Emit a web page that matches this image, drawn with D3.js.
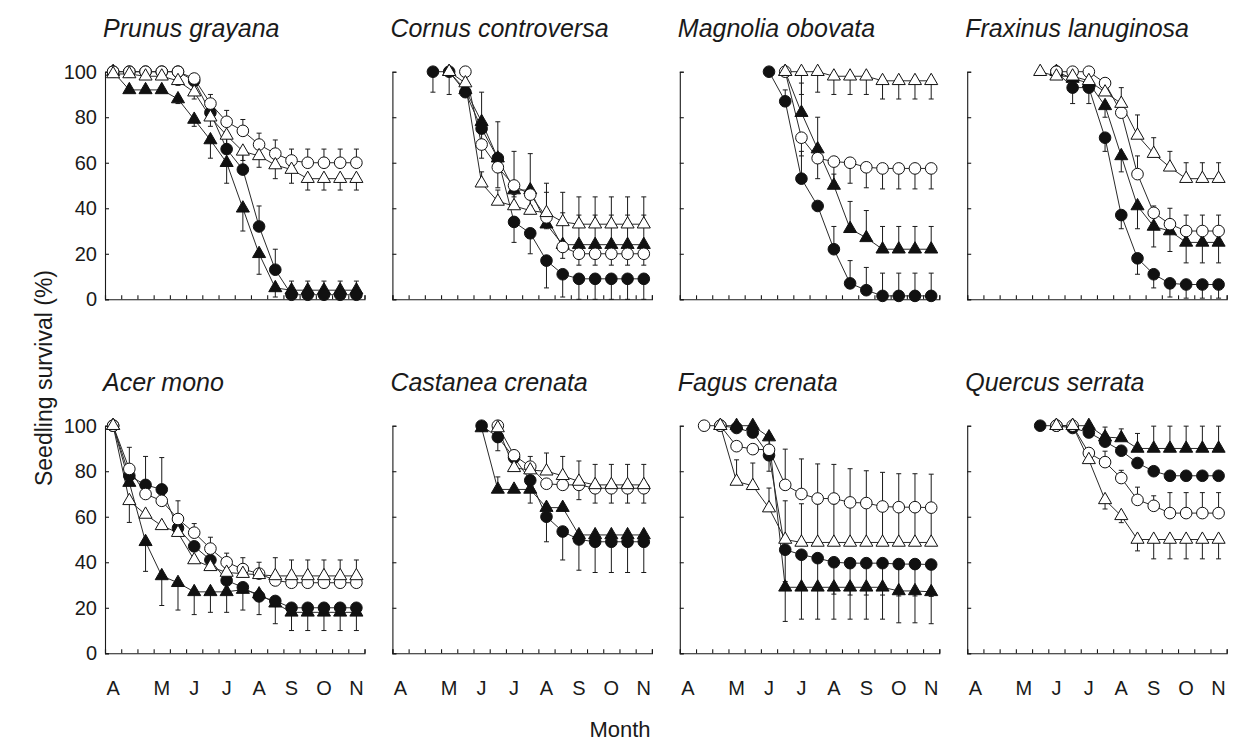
<!DOCTYPE html>
<html>
<head>
<meta charset="utf-8">
<script src="https://cdn.jsdelivr.net/npm/d3@7"></script>
<style>
  html, body { margin: 0; padding: 0; background: #fff; }
  svg { display: block; font-family: "Liberation Sans", Arial, Helvetica, sans-serif; }
</style>
</head>
<body>
<svg id="chart" width="1241" height="744"></svg>
<script>
// ---- data -----------------------------------------------------------------
const _ = null;
const monthLabels = ["A", "M", "J", "J", "A", "S", "O", "N"];
const monthSlots  = [0, 3, 5, 7, 9, 11, 13, 15];   // census slot under each month letter
const yTicks = [0, 20, 40, 60, 80, 100];
const speciesNames = [
  "Prunus grayana", "Cornus controversa", "Magnolia obovata", "Fraxinus lanuginosa",
  "Acer mono", "Castanea crenata", "Fagus crenata", "Quercus serrata"
];
// treatment order inside every survival / SE table below
const treatments = ["filledCircle", "openCircle", "filledTriangle", "openTriangle"];

// survival (%) per census slot, rows follow `treatments`
const prunusSurvival = [
  [100,100,100,100,100,96,82,66,57,32,13,2,2,2,2,2],
  [100,100,100,100,100,97,86,78,74,68,64,61,60,60,60,60],
  [100,92,92,92,88,79,70,60,40,20,5,4,4,4,4,4],
  [99,99,98,98,96,91,80,72,65,63,59,57,53,53,53,53]
];
const prunusSE = [
  [0,0,0,0,0,2,4,6,8,9,9,6,6,6,6,6],
  [0,0,0,0,0,2,4,5,5,5,6,5,6,6,6,6],
  [0,0,0,0,2,3,8,9,10,9,4,3,3,3,3,3],
  [0,0,0,0,2,3,4,4,4,5,6,6,5,5,5,5]
];
const prunusBarSide = [1, 1, -1, -1];

const cornusSurvival = [
  [_,_,100,100,91,75,62,34,29,17,11,9,9,9,9,9],
  [_,_,_,_,100,68,58,50,46,36,23,20,20,20,20,20],
  [_,_,_,100,92,78,62,48,48,33,24,24,24,24,24,24],
  [_,_,_,100,95,51,43,41,39,38,34,33,33,33,33,33]
];
const cornusSE = [
  [0,0,9,10,2,5,6,9,9,12,10,9,9,9,9,9],
  [0,0,0,0,0,6,9,5,5,5,5,5,5,5,5,5],
  [0,0,0,0,3,13,16,17,16,18,14,13,13,13,13,13],
  [0,0,0,0,3,5,5,5,7,9,13,12,12,12,12,12]
];
const cornusBarSide = [-1, -1, 1, 1];

const magnoliaSurvival = [
  [_,_,_,_,_,100,87,53,41,22,7,4,1.5,1.5,1.5,1.5],
  [_,_,_,_,_,_,100,71,62,60.5,60,58,57.5,57.5,57.5,57.5],
  [_,_,_,_,_,_,100,82,66,50,31,27,22,22,22,22],
  [_,_,_,_,_,_,100,100,100,98,98,98,96,96,96,96]
];
const magnoliaSE = [
  [0,0,0,0,0,0,5,12,0,10,10,10,10,10,10,10],
  [0,0,0,0,0,0,0,8,9,9,9,9,9,9,9,9],
  [0,0,0,0,0,0,0,13,14,5,12,12,10,10,10,10],
  [0,0,0,0,0,0,2,10,9,8,8,8,8,8,8,8]
];
const magnoliaBarSide = [1, -1, 1, -1];

const fraxinusSurvival = [
  [_,_,_,_,_,100,93,93,71,37,18,11,7,6.5,6.5,6.5],
  [_,_,_,_,_,100,100,100,95,82,55,38,33,30,30,30],
  [_,_,_,_,_,100,97,95,85,63,41,32,30,25,25,25],
  [_,_,_,_,100,98,98,96,91,86,72,64,58,53,53,53]
];
const fraxinusSE = [
  [0,0,0,0,0,0,7,7,6,6,7,6,6,6,6,6],
  [0,0,0,0,0,0,0,0,0,0,8,3,7,7,7,7],
  [0,0,0,0,0,0,0,3,5,7,10,9,9,9,9,9],
  [0,0,0,0,0,2,0,0,0,7,9,7,7,7,7,7]
];
const fraxinusBarSide = [-1, 1, -1, 1];

const acerSurvival = [
  [100,78,74,72,55,47,41,32,29,25,23,20,20,20,20,20],
  [100,81,70,67,59,53,46,40,37,35,32,31,31,31,31,31],
  [100,75,49,34,31,27,27,27,28,26,22,18,18,18,18,18],
  [100,67,61,56,53,41,38,35.5,35,34.5,34,34,34,34,34,34]
];
const acerSE = [
  [0,0,12.5,14,0,0,0,0,0,0,0,0,0,0,0,0],
  [0,9.5,0,0,8,4,5,4,5,5,10,10,10,10,10,10],
  [0,0,13,13,12,10,9,9,9,9,9,8,8,8,8,8],
  [0,9.5,0,0,0,0,0,0,0,0,0,0,0,0,0,0]
];
const acerBarSide = [1, 1, -1, -1];

const castaneaSurvival = [
  [_,_,_,_,_,100,95,86,76,60,53.5,50,49,49,49,49],
  [_,_,_,_,_,_,100,87,82,74.5,74,74,72.5,72.5,72.5,72.5],
  [_,_,_,_,_,99,72,72,72,64,64,52,52,52,52,52],
  [_,_,_,_,_,_,99,81.5,80.5,80,78,75.5,74,74,74,74]
];
const castaneaSE = [
  [0,0,0,0,0,0,6,3,10,11,12.5,13.5,13.5,13.5,13.5,13.5],
  [0,0,0,0,0,0,0,0,0,0,0,6.5,6.5,6.5,6.5,6.5],
  [0,0,0,0,0,0,5.5,0,0,0,0,0,0,0,0,0],
  [0,0,0,0,0,0,3,0,6,8,8.5,9,9,9,9,9]
];
const castaneaBarSide = [-1, -1, 1, 1];

const fagusSurvival = [
  [_,_,100,99,97,87,45.5,43.3,41.8,40,39.6,39.6,39.6,39.2,39.2,39],
  [_,100,100,91,89.7,89.4,74,70,68,68,66.3,66,64.5,64.2,64.2,64],
  [_,_,100,100,100,95,29,29,29,29,29,29,29,27.4,27.4,27],
  [_,_,100,75.5,73.6,63.8,50,48.7,48.7,48.7,48.7,48.7,48.7,48.7,48.7,48.7]
];
const fagusSE = [
  [0,0,0,0,0,7,14,14,14,14,14,14,14,14,14,14],
  [0,0,0,0,0,0,15.7,15.4,15.2,15,14.8,14.2,15,14.7,14.7,14.7],
  [0,0,0,0,0,4,15,14,14,14,14,14,14,14,14,14],
  [0,0,0,9.5,10,8.8,17,17,17,17,17,17,17,17,17,17]
];
const fagusBarSide = [-1, 1, -1, 1];

const quercusSurvival = [
  [_,_,_,_,100,100,99,97,93,89,83.6,80,78,78,78,78],
  [_,_,_,_,_,100,100,88,84,77,67.4,64.8,61.6,61.6,61.6,61.6],
  [_,_,_,_,_,100,100,100,95,94.6,90,90,90,90,90,90],
  [_,_,_,_,_,100,100,85,67.4,60.4,50,50,50,50,50,50]
];
const quercusSE = [
  [0,0,0,0,0,0,0,0,0,0,0,0,0,0,0,0],
  [0,0,0,0,0,0,0,0,4.8,3.4,5.6,4.4,9,9,9,9],
  [0,0,0,0,0,0,0,0,4.4,4,6.6,9.8,9.8,9.8,9.8,9.8],
  [0,0,0,0,0,0,0,0,4,3,5,8.5,8.5,8.5,8.5,8.5]
];
const quercusBarSide = [1, 1, 1, -1];

const survivalTables = [prunusSurvival, cornusSurvival, magnoliaSurvival, fraxinusSurvival,
                        acerSurvival, castaneaSurvival, fagusSurvival, quercusSurvival];
const seTables = [prunusSE, cornusSE, magnoliaSE, fraxinusSE,
                  acerSE, castaneaSE, fagusSE, quercusSE];
const barSides = [prunusBarSide, cornusBarSide, magnoliaBarSide, fraxinusBarSide,
                  acerBarSide, castaneaBarSide, fagusBarSide, quercusBarSide];

// ---- layout ---------------------------------------------------------------
const nSlots = 16;
const panelW = 259.5, panelH = 227.6;
const colLeft = c => 105 + 287.4 * c;
const rowTop  = r => 71.7 + 354 * r;
const ink = "#1a1a1a";
const fontStack = '"Liberation Sans", Arial, Helvetica, sans-serif';

const svg = d3.select("#chart");

const markerStyle = {
  filledCircle:   { shape: d3.symbolCircle,   size: 106, fill: "#111" },
  openCircle:     { shape: d3.symbolCircle,   size: 106, fill: "#fff" },
  filledTriangle: { shape: d3.symbolTriangle, size: 74,  fill: "#111" },
  openTriangle:   { shape: d3.symbolTriangle, size: 74,  fill: "#fff" }
};
// drawing order of markers (last one on top)
const markerOrder = [2, 0, 1, 3];

speciesNames.forEach((name, p) => {
  const col = p % 4, row = Math.floor(p / 4);
  const g = svg.append("g").attr("transform", `translate(${colLeft(col)},${rowTop(row)})`);

  const x = d3.scaleLinear().domain([0, nSlots]).range([0, panelW]);
  const y = d3.scaleLinear().domain([0, 100]).range([panelH, 0]);

  // axes with inward ticks
  const yAxis = d3.axisLeft(y).tickValues(yTicks).tickSize(-4).tickPadding(9)
    .tickFormat(col === 0 ? d3.format("d") : () => "");
  const gy = g.append("g").call(yAxis);
  const xAxis = d3.axisBottom(x).tickValues(d3.range(nSlots + 1)).tickSize(-4).tickFormat(() => "");
  const gx = g.append("g").attr("transform", `translate(0,${panelH})`).call(xAxis);
  [gx, gy].forEach(a => {
    a.selectAll("path, line").attr("stroke", ink).attr("stroke-width", 1.1);
  });
  gy.selectAll("text").attr("font-size", 20).attr("fill", ink)
    .attr("font-family", fontStack).attr("x", -8);

  if (row === 1) {
    g.append("g").selectAll("text").data(monthLabels).join("text")
      .attr("x", (d, i) => x(monthSlots[i] + 0.5))
      .attr("y", panelH + 42)
      .attr("text-anchor", "middle")
      .attr("font-size", 20)
      .attr("fill", ink)
      .text(d => d);
  }

  // species name
  g.append("text")
    .attr("x", -2).attr("y", -35)
    .attr("font-size", 25).attr("font-style", "italic").attr("fill", ink)
    .text(name);

  const table = survivalTables[p], se = seTables[p], sides = barSides[p];
  const pts = table.map((vals, t) => vals.map((v, i) => ({
    i, v, e: se[t][i], side: sides[t], t
  })).filter(d => d.v !== null));

  // error bars (one-sided)
  const bars = g.append("g").attr("stroke", ink).attr("stroke-width", 1);
  pts.forEach(series => {
    series.filter(d => d.e > 0).forEach(d => {
      const cx = x(d.i + 0.5);
      const yEnd = y(Math.max(0, d.v + d.side * d.e));
      bars.append("line").attr("x1", cx).attr("x2", cx).attr("y1", y(d.v)).attr("y2", yEnd);
      bars.append("line").attr("x1", cx - 2.5).attr("x2", cx + 2.5).attr("y1", yEnd).attr("y2", yEnd);
    });
  });

  // connecting lines
  const line = d3.line().x(d => x(d.i + 0.5)).y(d => y(d.v));
  pts.forEach(series => {
    g.append("path").datum(series).attr("d", line)
      .attr("fill", "none").attr("stroke", "#2a2a2a").attr("stroke-width", 1);
  });

  // markers
  markerOrder.forEach(t => {
    const st = markerStyle[treatments[t]];
    g.append("g").selectAll("path").data(pts[t]).join("path")
      .attr("transform", d => `translate(${x(d.i + 0.5)},${y(d.v)})`)
      .attr("d", d3.symbol().type(st.shape).size(st.size))
      .attr("fill", st.fill).attr("stroke", "#111").attr("stroke-width", 1);
  });
});

// shared axis titles
svg.append("text")
  .attr("transform", "translate(52,378) rotate(-90)")
  .attr("text-anchor", "middle").attr("font-size", 23).attr("fill", ink)
  .text("Seedling survival (%)");
svg.append("text")
  .attr("x", 620).attr("y", 737)
  .attr("text-anchor", "middle").attr("font-size", 22).attr("fill", ink)
  .text("Month");
</script>
</body>
</html>
